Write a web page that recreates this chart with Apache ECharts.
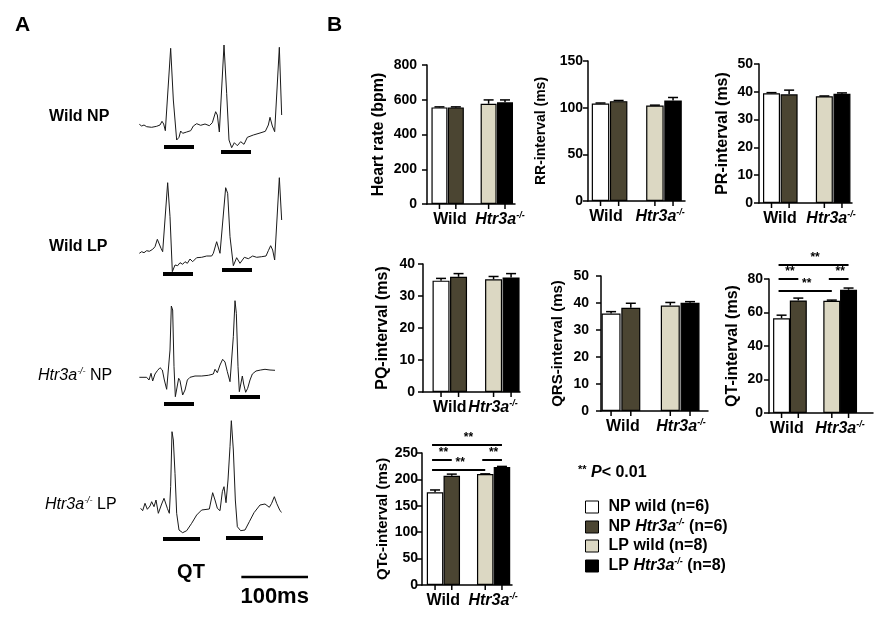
<!DOCTYPE html>
<html><head><meta charset="utf-8">
<script src="https://cdn.jsdelivr.net/npm/echarts@6/dist/echarts.min.js"></script>
<style>html,body{margin:0;padding:0;background:#fff}#c{width:875px;height:625px}</style>
</head><body><div id="c"></div>
<script>
// ---------------- Panel B data ----------------
const groups = ['NP wild', 'NP Htr3a-/-', 'LP wild', 'LP Htr3a-/-'];
const legendText = ['NP wild (n=6)', 'NP Htr3a-/- (n=6)', 'LP wild (n=8)', 'LP Htr3a-/- (n=8)'];
const genotypeLabels = ['Wild', 'Htr3a-/-'];

const heartRate = [556, 556, 577, 585];
const heartRateSem = [3, 3, 22, 14];
const rrInterval = [104.5, 107.0, 102.4, 107.7];
const rrSem = [0.5, 0.7, 0.3, 3.2];
const prInterval = [39.5, 39.1, 38.4, 39.3];
const prSem = [0.2, 1.5, 0.1, 0.3];
const pqInterval = [34.8, 36.0, 35.2, 35.8];
const pqSem = [0.7, 1.0, 0.9, 1.2];
const qrsInterval = [36.1, 38.2, 39.1, 40.1];
const qrsSem = [0.7, 1.7, 1.1, 0.4];
const qtInterval = [56.6, 67.2, 67.0, 73.6];
const qtSem = [1.8, 1.4, 0.4, 1.0];
const qtcInterval = [175.8, 206.9, 210.0, 223.3];
const qtcSem = [4.2, 3.1, 0.5, 1.3];
// significance brackets: [group a, group b, bracket level]
const qtSig = [[0, 3, 88.4], [0, 1, 80], [2, 3, 80], [0, 2, 72.8]];
const qtcSig = [[0, 3, 265], [0, 1, 236.7], [2, 3, 236.7], [0, 2, 217.6]];

// ---------------- Panel A data (ECG traces: [time ms, amplitude a.u.]) ----------------
const wildNP = [[14,35.7],[17.5,34],[21,35],[25,33.3],[32.5,32.7],[40,33.7],[45,35],[48,38.7],[50.5,36],[53,29.3],[61,111.7],[65,60],[70,20],[73.5,22.7],[76,29],[79,26.7],[85,28],[91,29.3],[95,34],[100,36.3],[106,34.7],[112.5,36],[119,34.3],[123.5,37.3],[128.5,48.3],[131,45],[134,28],[141,115],[145,66.7],[148.5,20],[152.5,12.3],[156.5,17.3],[161,14.3],[166,18.3],[171,15.7],[176,22.7],[185,25],[195,27],[203,28.7],[207.5,35],[210,42.7],[213.5,34],[217,28.3],[224,112.7],[227.5,45]];
const wildNPQT = [[51, 96, 13], [136.5, 181.5, 8]];
const wildLP = [[14,31.7],[17.5,33.3],[21,32.3],[25,34.3],[29,33.7],[34,35.7],[37.5,38.3],[41,45.7],[44,45],[46.5,36.7],[49,33.3],[56.5,102.3],[60,68.3],[63.5,13.3],[67.5,20],[71.5,19.3],[75,22.3],[79,20.7],[82.5,23.3],[86,21.7],[90,26],[94,23.3],[100,27.3],[107.5,27.7],[115,29],[122.5,29],[125,31.7],[130,43.3],[132.5,41.7],[135,31.7],[143.5,97.3],[146.5,91.7],[150,48.3],[155,19.3],[160,27.3],[165,21.7],[171.5,27.7],[177.5,26.3],[184,29],[190,27.7],[197.5,28.3],[204,29],[207.5,34.3],[211,39.3],[214,35],[217,25],[224,107.3],[227.5,65]];
const wildLPQT = [[49.5, 94.5, 11], [138, 183, 15]];
const htrNP = [[14,32.7],[25,32.7],[28.5,30],[31.5,36.7],[34,29],[37.5,36],[41,39.3],[45,42.3],[48.5,40],[51.5,30],[55,20.7],[57.5,21.7],[60,60],[62,104],[64,100],[66,43.3],[68,13.3],[70,13.3],[73,31.7],[75,29.3],[79,15],[82.5,20],[86,30],[90,32.7],[97.5,34],[107.5,34],[117.5,34.7],[125,36],[127.5,40.7],[131,37.3],[135,45],[139,50.7],[142.5,48],[146,38.3],[150,28.3],[152,30],[155,73.3],[157.5,109.3],[159.5,96.7],[162,43.3],[164,18.3],[166,19.3],[168.5,34],[170.5,26],[173.5,17.7],[176.5,21.7],[180,30],[183.5,36],[189,39],[196,40],[202.5,40.7],[210,40],[217.5,39.7]];
const htrNPQT = [[51, 96, 6], [150, 195, 13]];
const htrLP = [[16,36.7],[19,34.3],[22.5,41.7],[26,35.7],[30,39],[32.5,43.3],[36,38.3],[39,45],[42.5,31.7],[45,33.3],[47.5,41],[51,46.7],[53.5,45],[56,36.7],[59,31.7],[61,58.3],[63,113.3],[65,105],[67.5,71.7],[70,31.7],[73.5,15],[79,12.3],[85,14.3],[92.5,21.7],[100,30],[107.5,35],[119,36],[124,52.3],[127.5,45],[131,36.7],[135,34.3],[138.5,53.3],[141,58.3],[144,42.3],[147,65],[150,98.3],[152,124.3],[155,95],[158,45],[161,18.3],[166,14.3],[172.5,15],[179,23.3],[186,32.3],[195,40],[202.5,41],[209,37.7],[212.5,41.7],[216.5,48.3],[220,41.7],[225,34.3],[227.5,32.7]];
const htrLPQT = [[49.5, 105, 6], [144, 199.5, 7]];
const scaleBar = [[167, 267, -32]]; // 100 ms
const scaleBarLabel = '100ms';

// ---------------- styling / layout ----------------
const FONT = 'Arial, "Liberation Sans", Helvetica, sans-serif';
const COLORS = ['#ffffff', '#4b4532', '#dcd8c3', '#000000'];
const slotOf = i => (i < 2 ? i : i + 1);
const RICH = {
  p: {width: 5},
  b: {fontFamily: FONT, fontWeight: 'bold', fontSize: 16, color: '#000', lineHeight: 18},
  i: {fontFamily: FONT, fontWeight: 'bold', fontStyle: 'italic', fontSize: 16, color: '#000', lineHeight: 18},
  s: {fontFamily: FONT, fontWeight: 'bold', fontStyle: 'italic', fontSize: 9, color: '#000', verticalAlign: 'top', lineHeight: 9},
  a: {fontFamily: FONT, fontWeight: 'bold', fontSize: 11, color: '#000', verticalAlign: 'top', lineHeight: 11}
};
const RICH_A = {
  i: {fontFamily: FONT, fontStyle: 'italic', fontSize: 16, color: '#000', lineHeight: 18},
  n: {fontFamily: FONT, fontSize: 16, color: '#000', lineHeight: 18},
  s: {fontFamily: FONT, fontStyle: 'italic', fontSize: 9, color: '#000', verticalAlign: 'top', lineHeight: 9}
};
function richLabel(str) {
  return str.split('Htr3a-/-').map(p => p ? '{b|' + p + '}' : '').join('{i|Htr3a}{s|-/-}');
}

const chartDefs = [
  {title: 'Heart rate (bpm)', values: heartRate, sem: heartRateSem, max: 800, interval: 200, box: [427, 65, 515, 204], xr: [-0.76, 4.61], bw: 16, nameGap: 40, nameSize: 16, margin: 10, labelAt: [0.64, 3.69]},
  {title: 'RR-interval (ms)', values: rrInterval, sem: rrSem, max: 150, interval: 50, box: [588, 61, 685, 201], xr: [-0.69, 4.66], bw: 17.5, nameGap: 40, nameSize: 14, margin: 5, labelAt: [0.30, 3.29]},
  {title: 'PR-interval (ms)', values: prInterval, sem: prSem, max: 50, interval: 10, box: [759, 64, 852, 203], xr: [-0.71, 4.57], bw: 17, nameGap: 28, nameSize: 16, margin: 6, labelAt: [0.48, 3.38]},
  {title: 'PQ-interval (ms)', values: pqInterval, sem: pqSem, max: 40, interval: 10, box: [423, 264, 520, 392], xr: [-1.03, 4.51], bw: 17, nameGap: 32, nameSize: 16, margin: 8, labelAt: [0.5, 2.97]},
  {title: 'QRS-interval (ms)', values: qrsInterval, sem: qrsSem, max: 50, interval: 10, box: [601, 276, 708, 411], xr: [-0.51, 4.91], bw: 19, nameGap: 36, nameSize: 15, margin: 12, labelAt: [0.6, 3.54]},
  {title: 'QT-interval (ms)', values: qtInterval, sem: qtSem, sig: qtSig, max: 80, interval: 20, box: [769, 279, 873, 413], xr: [-0.75, 5.46], bw: 17, nameGap: 28, nameSize: 16, margin: 6, labelAt: [0.32, 3.49]},
  {title: 'QTc-interval (ms)', values: qtcInterval, sem: qtcSem, sig: qtcSig, max: 250, interval: 50, box: [422, 453, 512, 585], xr: [-0.78, 4.6], bw: 16.5, nameGap: 28, nameSize: 15, margin: 4, labelAt: [0.49, 3.47]}
];

const ecgDefs = [
  {trace: wildNP, qt: wildNPQT, top: 40, h: 120, ymin: 0, ymax: 120},
  {trace: wildLP, qt: wildLPQT, top: 170, h: 115, ymin: 0, ymax: 115},
  {trace: htrNP, qt: htrNPQT, top: 300, h: 110, ymin: 0, ymax: 110},
  {trace: htrLP, qt: htrLPQT, top: 420, h: 160, ymin: -35, ymax: 125}
];

const grid = [], xAxis = [], yAxis = [], series = [];

function segmentRenderer(width, label) {
  return (params, api) => {
    const a = api.coord([api.value(0), api.value(2)]);
    const b = api.coord([api.value(1), api.value(2)]);
    const children = [{type: 'line', shape: {x1: a[0], y1: a[1], x2: b[0], y2: b[1]}, style: {stroke: '#000', lineWidth: width}}];
    if (label) children.push({type: 'text', x: (a[0] + b[0]) / 2, y: a[1] + 20,
      style: {text: label, font: 'bold 22px ' + FONT, fill: '#000', align: 'center', verticalAlign: 'middle'}});
    return {type: 'group', children};
  };
}

ecgDefs.forEach((d, k) => {
  grid.push({left: 130, top: d.top, width: 190, height: d.h});
  xAxis.push({type: 'value', gridIndex: k, min: 0, max: 285, show: false});
  yAxis.push({type: 'value', gridIndex: k, min: d.ymin, max: d.ymax, show: false});
  series.push({type: 'line', xAxisIndex: k, yAxisIndex: k, data: d.trace, symbol: 'none',
    lineStyle: {color: '#1a1a1a', width: 1}, silent: true});
  series.push({type: 'custom', xAxisIndex: k, yAxisIndex: k, data: d.qt, encode: {x: [0, 1], y: 2},
    clip: false, silent: true, renderItem: segmentRenderer(4)});
});
series.push({type: 'custom', xAxisIndex: 3, yAxisIndex: 3, data: scaleBar, encode: {x: [0, 1], y: 2},
  clip: false, silent: true, renderItem: segmentRenderer(2.5, scaleBarLabel)});

// legend helper series (no data)
groups.forEach((g, i) => {
  series.push({type: 'bar', name: g, xAxisIndex: 0, yAxisIndex: 0, data: [],
    itemStyle: {color: COLORS[i], borderColor: '#000', borderWidth: 1}});
});

chartDefs.forEach((c, j) => {
  const k = 4 + j;
  const [x0, y0, x1, y1] = c.box;
  grid.push({left: x0, top: y0, width: x1 - x0, height: y1 - y0});
  xAxis.push({type: 'value', gridIndex: k, min: c.xr[0], max: c.xr[1],
    axisLine: {show: true, onZero: false, lineStyle: {color: '#000', width: 1.5}},
    axisTick: {show: false}, axisLabel: {show: false}, splitLine: {show: false}});
  yAxis.push({type: 'value', gridIndex: k, min: 0, max: c.max, interval: c.interval,
    name: c.title, nameLocation: 'middle', nameGap: c.nameGap,
    nameTextStyle: {fontFamily: FONT, fontWeight: 'bold', fontSize: c.nameSize, color: '#000'},
    axisLine: {show: true, onZero: false, lineStyle: {color: '#000', width: 1.5}},
    axisTick: {show: true, length: 5, lineStyle: {color: '#000', width: 1.5}},
    axisLabel: {color: '#000', fontFamily: FONT, fontWeight: 'bold', fontSize: 14, margin: c.margin},
    splitLine: {show: false}});
  series.push({type: 'bar', xAxisIndex: k, yAxisIndex: k, barWidth: c.bw, silent: true, z: 2,
    data: c.values.map((v, i) => ({value: [slotOf(i), v], itemStyle: {color: COLORS[i]}})),
    itemStyle: {borderColor: '#000', borderWidth: 1.2}});
  // error bars (upper only)
  series.push({type: 'custom', xAxisIndex: k, yAxisIndex: k, silent: true, clip: false, z: 3,
    data: c.values.map((v, i) => [slotOf(i), v, v + c.sem[i]]), encode: {x: 0, y: [1, 2]},
    renderItem: (params, api) => {
      const p0 = api.coord([api.value(0), api.value(1)]);
      const p1 = api.coord([api.value(0), api.value(2)]);
      return {type: 'group', children: [
        {type: 'line', shape: {x1: p0[0], y1: p0[1], x2: p1[0], y2: p1[1]}, style: {stroke: '#000', lineWidth: 1.5}},
        {type: 'line', shape: {x1: p1[0] - 5, y1: p1[1], x2: p1[0] + 5, y2: p1[1]}, style: {stroke: '#000', lineWidth: 1.5}}
      ]};
    }});
  // x ticks under bars
  series.push({type: 'custom', xAxisIndex: k, yAxisIndex: k, silent: true, clip: false,
    data: c.values.map((v, i) => [slotOf(i), 0]), encode: {x: 0, y: 1},
    renderItem: (params, api) => {
      const p = api.coord([api.value(0), 0]);
      return {type: 'line', shape: {x1: p[0], y1: p[1], x2: p[0], y2: p[1] + 5}, style: {stroke: '#000', lineWidth: 1.5}};
    }});
  // genotype labels
  series.push({type: 'custom', xAxisIndex: k, yAxisIndex: k, silent: true, clip: false,
    data: c.labelAt.map((s, g) => [s, 0, g]), encode: {x: 0, y: 1},
    renderItem: (params, api) => {
      const p = api.coord([api.value(0), 0]);
      return {type: 'text', x: p[0], y: p[1] + 16,
        style: {text: richLabel(genotypeLabels[params.dataIndex]), rich: RICH, align: 'center', verticalAlign: 'middle'}};
    }});
  if (c.sig) {
    series.push({type: 'custom', xAxisIndex: k, yAxisIndex: k, silent: true, clip: false, z: 4,
      data: c.sig.map(s => [slotOf(s[0]), slotOf(s[1]), s[2]]), encode: {x: [0, 1], y: 2},
      renderItem: (params, api) => {
        const a = api.coord([api.value(0), api.value(2)]);
        const b = api.coord([api.value(1), api.value(2)]);
        return {type: 'group', children: [
          {type: 'line', shape: {x1: a[0] - 3, y1: a[1], x2: b[0], y2: b[1]}, style: {stroke: '#000', lineWidth: 2}},
          {type: 'text', x: (a[0] + b[0]) / 2, y: a[1] - 1,
            style: {text: '**', font: 'bold 12px ' + FONT, fill: '#000', align: 'center', verticalAlign: 'bottom'}}
        ]};
      }});
  }
});

const option = {
  animation: false,
  backgroundColor: '#fff',
  grid, xAxis, yAxis, series,
  legend: {
    orient: 'vertical', left: 580, top: 494, itemWidth: 13, itemHeight: 12, itemGap: 3,
    selectedMode: false, icon: 'rect', data: groups,
    itemStyle: {borderColor: '#000', borderWidth: 1},
    formatter: name => '{p|}' + richLabel(legendText[groups.indexOf(name)]),
    textStyle: {rich: RICH}
  },
  graphic: [
    {type: 'text', x: 15, y: 25, style: {text: 'A', font: 'bold 21px ' + FONT, fill: '#000', verticalAlign: 'middle'}},
    {type: 'text', x: 327, y: 25, style: {text: 'B', font: 'bold 21px ' + FONT, fill: '#000', verticalAlign: 'middle'}},
    {type: 'text', x: 49, y: 117, style: {text: 'Wild NP', font: 'bold 16px ' + FONT, fill: '#000', verticalAlign: 'middle'}},
    {type: 'text', x: 49, y: 247, style: {text: 'Wild LP', font: 'bold 16px ' + FONT, fill: '#000', verticalAlign: 'middle'}},
    {type: 'text', x: 38, y: 376, style: {text: '{i|Htr3a}{s|-/-}{n| NP}', rich: RICH_A, verticalAlign: 'middle'}},
    {type: 'text', x: 45, y: 505, style: {text: '{i|Htr3a}{s|-/-}{n| LP}', rich: RICH_A, verticalAlign: 'middle'}},
    {type: 'text', x: 191, y: 572, style: {text: 'QT', font: 'bold 20px ' + FONT, fill: '#000', align: 'center', verticalAlign: 'middle'}},
    {type: 'text', x: 578, y: 473, style: {text: '{a|**}{b| }{i|P}{b|< 0.01}', rich: RICH, verticalAlign: 'middle'}}
  ]
};

const chart = echarts.init(document.getElementById('c'), null, {renderer: 'canvas'});
chart.setOption(option);
</script>
</body></html>
